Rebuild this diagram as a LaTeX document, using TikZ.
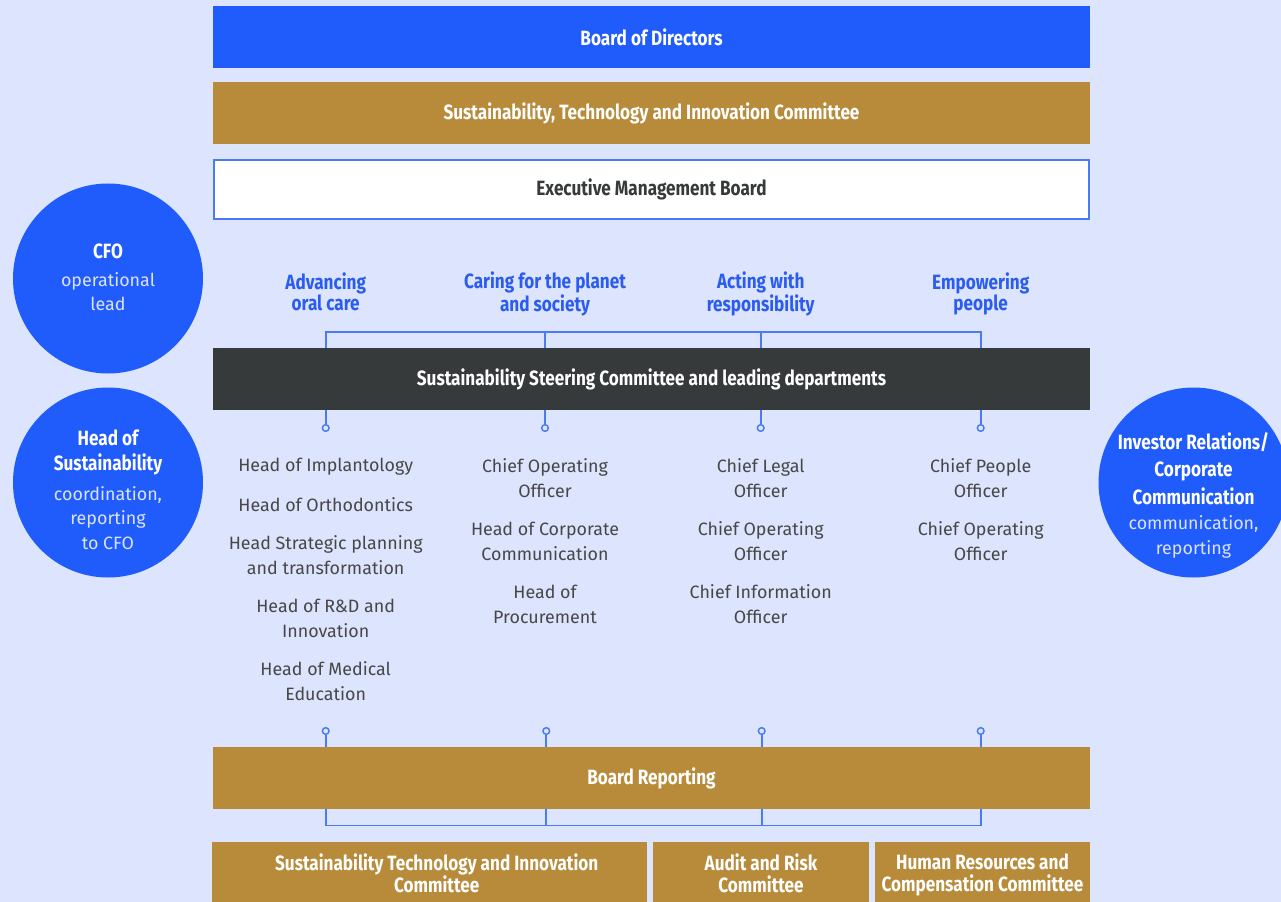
\documentclass[tikz,border=0pt]{standalone}
\usepackage{fontspec}
\setmainfont{Fira Sans}
\newfontfamily\cond{Fira Sans}[FakeStretch=0.83]
\definecolor{bgc}{HTML}{DDE4FD}
\definecolor{royal}{HTML}{205BFC}
\definecolor{gold}{HTML}{B88B3B}
\definecolor{darkbar}{HTML}{363A3B}
\definecolor{linec}{HTML}{4A7BF5}
\definecolor{headc}{HTML}{2B5CF0}
\definecolor{bodyc}{HTML}{474747}
\definecolor{subc}{HTML}{DCE3FF}
\tikzset{
  box/.style={rectangle, inner sep=0pt, minimum width=657.75pt, minimum height=46.5pt},
  boxtext/.style={text=white, font={\fontsize{15.5}{18}\cond\bfseries}, align=center},
  circ/.style={circle, fill=royal, inner sep=0pt, minimum size=142.5pt},
  ctitle/.style={text=white, align=center, font={\fontsize{15.5}{18.2}\cond\bfseries}},
  csub/.style={text=subc, align=center, font={\fontsize{13.4}{18.5}\selectfont}},
  head/.style={text=headc, align=center, font={\fontsize{15.5}{16}\cond\bfseries}},
  body/.style={text=bodyc, align=center, font={\fontsize{13.4}{18.75}\selectfont}},
  conn/.style={draw=linec, line width=1.3pt},
  dot/.style={circle, draw=linec, line width=1.1pt, fill=bgc, inner sep=0pt, minimum size=5pt},
  lowbox/.style={rectangle, fill=gold, inner sep=0pt, minimum height=45pt},
  lowtext/.style={text=white, align=center, font={\fontsize{15.5}{16.5}\cond\bfseries}}
}
\begin{document}
\begin{tikzpicture}[x=0.75pt,y=-0.75pt]
\fill[bgc] (0,0) rectangle (1281,902);
\useasboundingbox (0,0) rectangle (1281,902);

% top boxes
\node[box, fill=royal, boxtext] (bod) at (651.5,37) {Board of Directors};
\node[box, fill=gold, boxtext] (stic) at (651.5,113) {Sustainability, Technology and Innovation Committee};
\node[box, fill=white, draw=linec, line width=1.1pt, minimum height=44.5pt, minimum width=656.5pt, boxtext, text=darkbar] (emb) at (651.5,189.5) {Executive Management Board};

% circles
\node[circ] (cfo) at (108,278.5) {};
\node[ctitle] (cfot) at (108,251) {CFO};
\node[csub] (cfos) at (108,291.5) {operational\\lead};

\node[circ] (hos) at (108,482.5) {};
\node[ctitle] (host) at (108,452.5) {Head of\\Sustainability};
\node[csub] (hoss) at (108,518) {coordination,\\reporting\\to CFO};

\node[circ] (irc) at (1193.5,482.5) {};
\node[ctitle, font={\fontsize{15.5}{20.6}\cond\bfseries}] (irct) at (1193.5,468.5) {Investor Relations/\\Corporate\\Communication};
\node[csub, font={\fontsize{13.4}{18.8}\selectfont}] (ircs) at (1193.5,536.5) {communication,\\reporting};

% pillar headings
\node[head] (h1) at (325.7,291.8) {Advancing\\oral care};
\node[head] (h2) at (545,294) {Caring for the planet\\and society};
\node[head] (h3) at (760.7,294) {Acting with\\responsibility};
\node[head] (h4) at (980.7,293.8) {Empowering\\people};

% steering committee
\node[box, fill=darkbar, boxtext] (ssc) at (651.5,379) {Sustainability Steering Committee and leading departments};

% top bracket
\coordinate (t1) at (325.7,332);
\coordinate (t2) at (545,332);
\coordinate (t3) at (760.7,332);
\coordinate (t4) at (980.7,332);
\draw[conn] (ssc.north -| t1) -- (t1) -- (t4) -- (ssc.north -| t4);
\draw[conn] (t2) -- (ssc.north -| t2);
\draw[conn] (t3) -- (ssc.north -| t3);

% dots below steering committee
\node[dot] (d1) at (325.7,428) {};
\node[dot] (d2) at (545,428) {};
\node[dot] (d3) at (760.7,428) {};
\node[dot] (d4) at (980.7,428) {};
\foreach \d in {d1,d2,d3,d4} \draw[conn] (ssc.south -| \d) -- (\d.north);

% column texts
\node[body] (c1a) at (325.7,466.5) {Head of Implantology};
\node[body] (c1b) at (325.7,505) {Head of Orthodontics};
\node[body] (c1c) at (325.7,555) {Head Strategic planning\\and transformation};
\node[body] (c1d) at (325.7,618) {Head of R\&D and\\Innovation};
\node[body] (c1e) at (325.7,681.5) {Head of Medical\\Education};

\node[body] (c2a) at (545,478) {Chief Operating\\Officer};
\node[body] (c2b) at (545,541) {Head of Corporate\\Communication};
\node[body] (c2c) at (545,604.5) {Head of\\Procurement};

\node[body] (c3a) at (760.7,478) {Chief Legal\\Officer};
\node[body] (c3b) at (760.7,541) {Chief Operating\\Officer};
\node[body] (c3c) at (760.7,604.5) {Chief Information\\Officer};

\node[body] (c4a) at (980.7,478) {Chief People\\Officer};
\node[body] (c4b) at (980.7,541) {Chief Operating\\Officer};

% board reporting
\node[box, fill=gold, boxtext] (br) at (651.5,778) {Board Reporting};
\node[dot] (e1) at (325.7,731) {};
\node[dot] (e2) at (546.3,731) {};
\node[dot] (e3) at (761.7,731) {};
\node[dot] (e4) at (980.7,731) {};
\foreach \d in {e1,e2,e3,e4} \draw[conn] (\d.south) -- (br.north -| \d);

% bottom bracket
\coordinate (b1) at (325.7,825.5);
\coordinate (b2) at (546.3,825.5);
\coordinate (b3) at (761.7,825.5);
\coordinate (b4) at (980.7,825.5);
\draw[conn] (br.south -| b1) -- (b1) -- (b4) -- (br.south -| b4);
\draw[conn] (br.south -| b2) -- (b2);
\draw[conn] (br.south -| b3) -- (b3);

% bottom committees
\node[lowbox, minimum width=326.25pt] (k1) at (429.5,872) {};
\node[lowtext] (k1t) at (436.7,873) {Sustainability Technology and Innovation\\Committee};
\node[lowbox, minimum width=162pt] (k2) at (761,872) {};
\node[lowtext] (k2t) at (761,873) {Audit and Risk\\Committee};
\node[lowbox, minimum width=161.25pt] (k3) at (982.5,872) {};
\node[lowtext] (k3t) at (982.5,875) {Human Resources and\\Compensation Committee};
\end{tikzpicture}
\end{document}
